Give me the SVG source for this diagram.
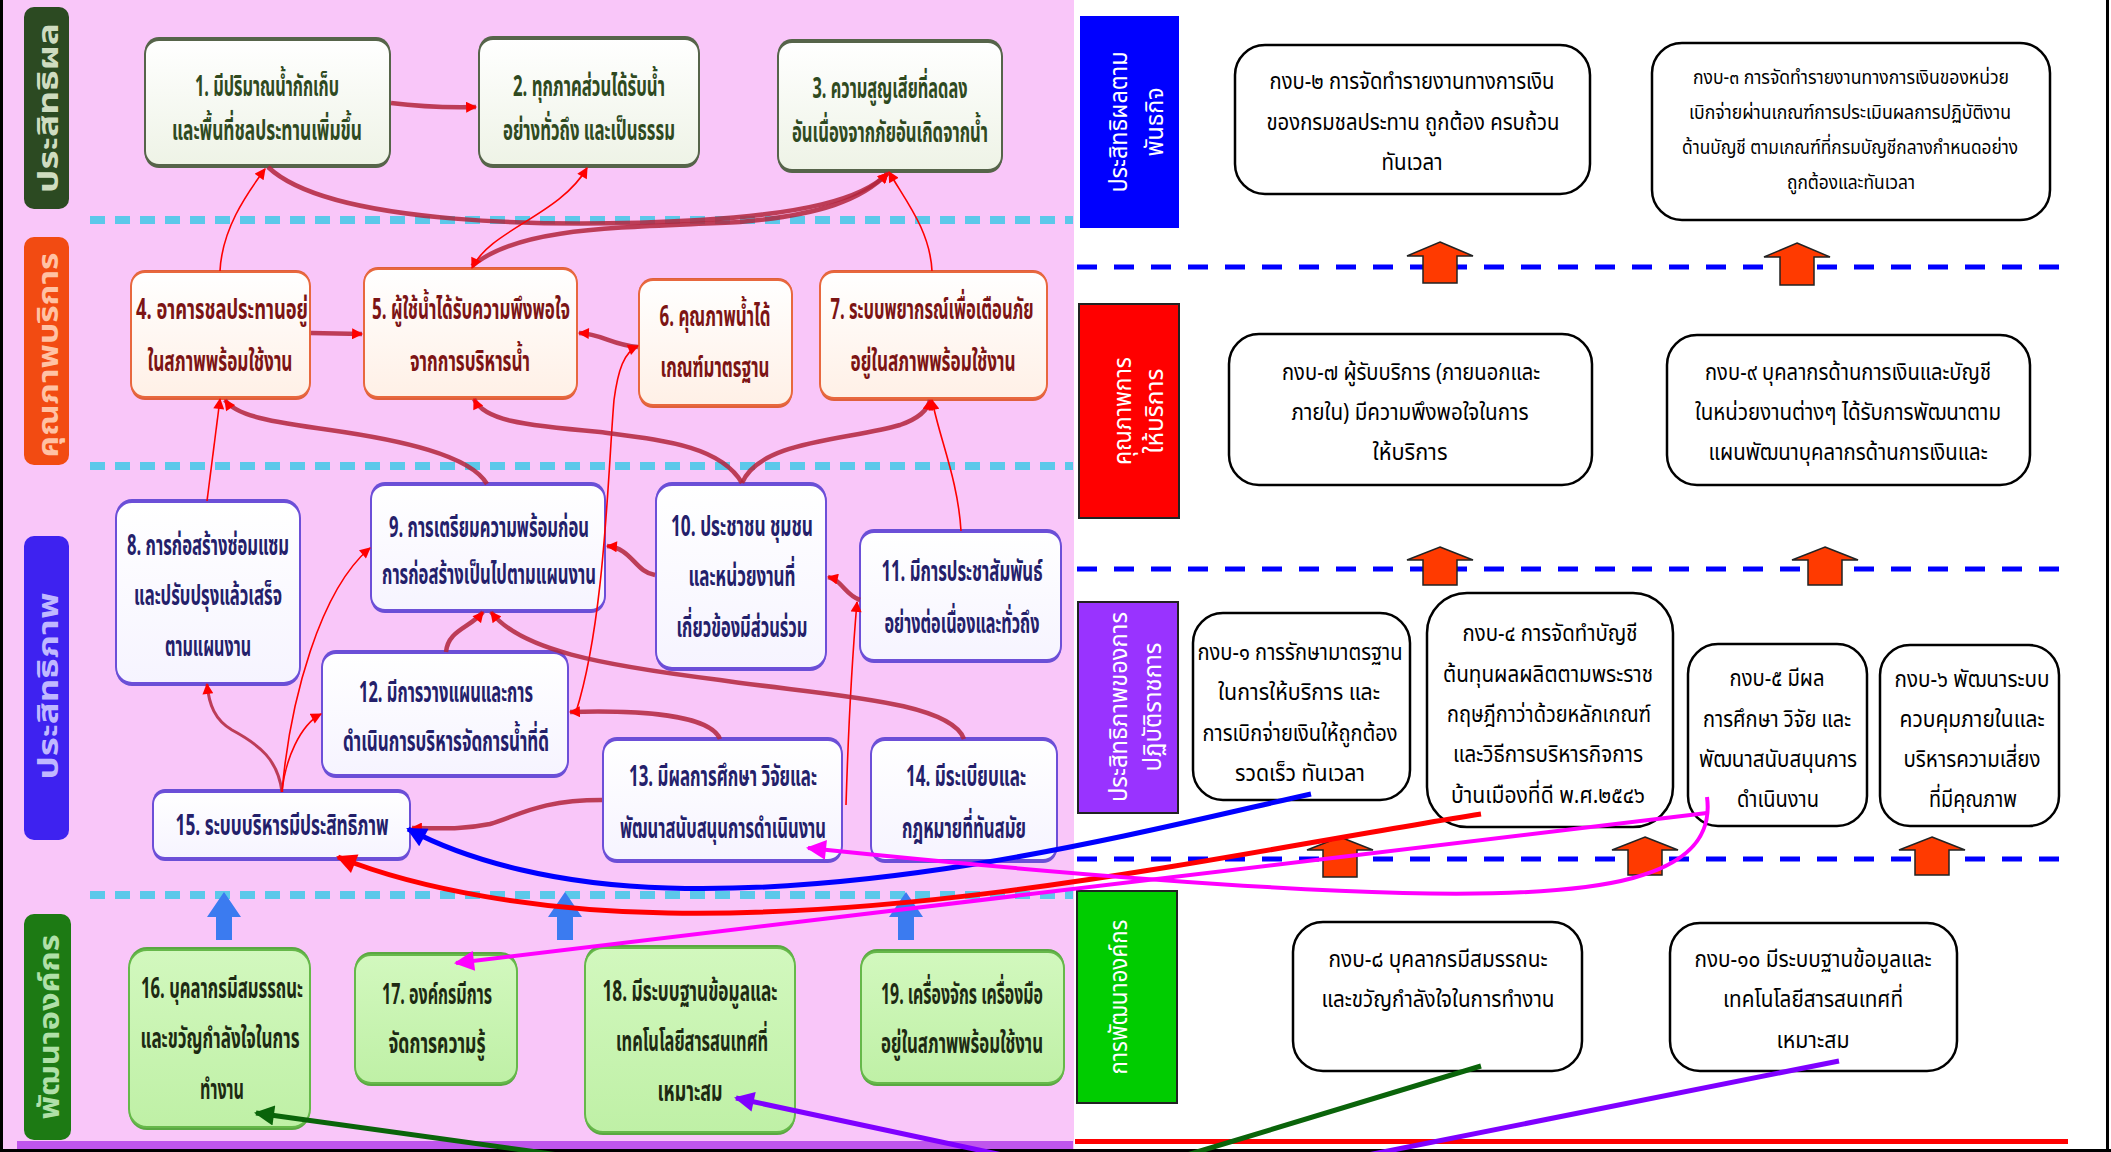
<svg xmlns="http://www.w3.org/2000/svg" width="2111" height="1152" viewBox="0 0 2111 1152">
<defs>
<style>
.t{font-family:"Noto Sans Thai","Noto Sans","DejaVu Sans",sans-serif;font-weight:700;font-size:29px;text-anchor:middle}
.t1{fill:#2f4a1f}.t2{fill:#7c1414}.t3{fill:#24206a}.t4{fill:#1d2a12}
.r{font-family:"Noto Sans Thai","Noto Sans","DejaVu Sans",sans-serif;font-size:23px;text-anchor:middle;fill:#000}
.lab{font-family:"Noto Sans Thai","Noto Sans","DejaVu Sans",sans-serif;font-weight:700;font-size:28px;text-anchor:middle}
.rl{font-family:"Noto Sans Thai","Noto Sans","DejaVu Sans",sans-serif;font-size:24px;text-anchor:middle;fill:#fff}
.s1{fill:#56644a}.s2{fill:#e0603c}.s3{fill:#6a4fd6}.s4{fill:#5aa842}
.b1{fill:url(#g1);stroke:#56644a;stroke-width:2}
.b2{fill:url(#g2);stroke:#e8683e;stroke-width:2}
.b3{fill:url(#g3);stroke:#6c4fd8;stroke-width:2}
.b4{fill:url(#g4);stroke:#66b84a;stroke-width:2}
.rb{fill:#fff;stroke:#000;stroke-width:2.5}
.cy{stroke:#5cc8ea;stroke-width:8;stroke-dasharray:15 10;fill:none}
.bl{stroke:#0000ff;stroke-width:5;stroke-dasharray:20 17;fill:none}
.thk{fill:none;stroke:#b3243c;stroke-width:4.5;stroke-opacity:.85;marker-end:url(#ar)}
.thn{fill:none;stroke:#ff0000;stroke-width:1.6;marker-end:url(#ar)}
.ua{fill:#3b7bf0}
.oa{fill:#ff3a00;stroke:#222;stroke-width:1.5}
</style>
<linearGradient id="g1" x1="0" y1="0" x2="0" y2="1"><stop offset="0" stop-color="#ffffff"/><stop offset="1" stop-color="#eef3e6"/></linearGradient>
<linearGradient id="g2" x1="0" y1="0" x2="0" y2="1"><stop offset="0" stop-color="#ffffff"/><stop offset="1" stop-color="#fff0e6"/></linearGradient>
<linearGradient id="g3" x1="0" y1="0" x2="0" y2="1"><stop offset="0" stop-color="#ffffff"/><stop offset="1" stop-color="#f6f4ff"/></linearGradient>
<linearGradient id="g4" x1="0" y1="0" x2="0" y2="1"><stop offset="0" stop-color="#d2f8be"/><stop offset="1" stop-color="#bff0a6"/></linearGradient>
<marker id="ar" viewBox="0 0 10 10" refX="9" refY="5" markerWidth="12" markerHeight="11" markerUnits="userSpaceOnUse" orient="auto-start-reverse"><path d="M0,0 L10,5 L0,10 z" fill="#ff0000"/></marker>
<marker id="mB" viewBox="0 0 10 10" refX="9" refY="5" markerWidth="24" markerHeight="20" markerUnits="userSpaceOnUse" orient="auto"><path d="M0,0 L10,5 L0,10 z" fill="#0000ff"/></marker>
<marker id="mR" viewBox="0 0 10 10" refX="9" refY="5" markerWidth="24" markerHeight="20" markerUnits="userSpaceOnUse" orient="auto"><path d="M0,0 L10,5 L0,10 z" fill="#ff0000"/></marker>
<marker id="mM" viewBox="0 0 10 10" refX="9" refY="5" markerWidth="24" markerHeight="20" markerUnits="userSpaceOnUse" orient="auto"><path d="M0,0 L10,5 L0,10 z" fill="#ff00ff"/></marker>
<marker id="mG" viewBox="0 0 10 10" refX="9" refY="5" markerWidth="24" markerHeight="20" markerUnits="userSpaceOnUse" orient="auto"><path d="M0,0 L10,5 L0,10 z" fill="#0a640a"/></marker>
<marker id="mP" viewBox="0 0 10 10" refX="9" refY="5" markerWidth="24" markerHeight="20" markerUnits="userSpaceOnUse" orient="auto"><path d="M0,0 L10,5 L0,10 z" fill="#7f00ff"/></marker>
</defs>

<g id="background">
<rect x="0" y="0" width="2111" height="1152" fill="#ffffff"/>
<rect x="0" y="0" width="1074" height="1152" fill="#f9c6f9"/>
<rect x="17" y="1141" width="1056" height="8" fill="#bf55ec"/>
<rect x="0" y="0" width="3" height="1152" fill="#000"/>
<rect x="0" y="1149" width="2111" height="3" fill="#000"/>
<rect x="2106" y="0" width="3" height="1152" fill="#000"/>
</g>

<g id="bands">
<line class="cy" x1="90" y1="220" x2="1073" y2="220"/>
<line class="cy" x1="90" y1="466" x2="1073" y2="466"/>
<line class="cy" x1="90" y1="895" x2="1073" y2="895"/>
<line class="bl" x1="1077" y1="267" x2="2068" y2="267"/>
<line class="bl" x1="1077" y1="569" x2="2068" y2="569"/>
<line class="bl" x1="1077" y1="859" x2="2068" y2="859"/>
<rect x="1075" y="1139" width="993" height="5" fill="#ff0000"/>
<path class="ua" d="M224,892 L241,917 L232,917 L232,940 L216,940 L216,917 L207,917 Z"/>
<path class="ua" d="M565,892 L582,917 L573,917 L573,940 L557,940 L557,917 L548,917 Z"/>
<path class="ua" d="M906,892 L923,917 L914,917 L914,940 L898,940 L898,917 L889,917 Z"/>
<path class="oa" d="M1440,242 L1473,256 L1457,256 L1457,283 L1423,283 L1423,256 L1407,256 Z"/>
<path class="oa" d="M1797,243 L1830,257 L1814,257 L1814,285 L1780,285 L1780,257 L1764,257 Z"/>
<path class="oa" d="M1440,547 L1473,560 L1457,560 L1457,585 L1423,585 L1423,560 L1407,560 Z"/>
<path class="oa" d="M1825,547 L1858,560 L1842,560 L1842,585 L1808,585 L1808,560 L1792,560 Z"/>
<path class="oa" d="M1340,837 L1373,850 L1357,850 L1357,877 L1323,877 L1323,850 L1307,850 Z"/>
<path class="oa" d="M1645,837 L1678,850 L1662,850 L1662,875 L1628,875 L1628,850 L1612,850 Z"/>
<path class="oa" d="M1932,837 L1965,850 L1949,850 L1949,875 L1915,875 L1915,850 L1899,850 Z"/>
</g>

<g id="labels">
<g id="lab1"><rect x="24" y="7" width="45" height="202" rx="10" fill="#2c4a22"/><text class="lab" fill="#cfdcc0" transform="translate(58,108) rotate(-90)" textLength="170" lengthAdjust="spacingAndGlyphs">ประสิทธิผล</text></g>
<g id="lab2"><rect x="24" y="237" width="45" height="228" rx="10" fill="#f24b12"/><text class="lab" fill="#ffc2a4" transform="translate(58,355) rotate(-90)" textLength="205" lengthAdjust="spacingAndGlyphs">คุณภาพบริการ</text></g>
<g id="lab3"><rect x="24" y="536" width="45" height="304" rx="10" fill="#3e22f0"/><text class="lab" fill="#c0b8ff" transform="translate(58,686) rotate(-90)" textLength="187" lengthAdjust="spacingAndGlyphs">ประสิทธิภาพ</text></g>
<g id="lab4"><rect x="24" y="914" width="47" height="226" rx="10" fill="#1d7a14"/><text class="lab" fill="#b0e0a8" transform="translate(59,1027) rotate(-90)" textLength="185" lengthAdjust="spacingAndGlyphs">พัฒนาองค์กร</text></g>
<g id="rlab1"><rect x="1080" y="16" width="99" height="212" fill="#0000ff"/><text class="rl" transform="translate(1127,122) rotate(-90)" textLength="141" lengthAdjust="spacingAndGlyphs">ประสิทธิผลตาม</text><text class="rl" transform="translate(1163,122) rotate(-90)" textLength="69" lengthAdjust="spacingAndGlyphs">พันธกิจ</text></g>
<g id="rlab2"><rect x="1079" y="304" width="100" height="214" fill="#ff0000" stroke="#222" stroke-width="2"/><text class="rl" transform="translate(1131,411) rotate(-90)" textLength="108" lengthAdjust="spacingAndGlyphs">คุณภาพการ</text><text class="rl" transform="translate(1163,411) rotate(-90)" textLength="85" lengthAdjust="spacingAndGlyphs">ให้บริการ</text></g>
<g id="rlab3"><rect x="1078" y="602" width="100" height="211" fill="#9933ff" stroke="#222" stroke-width="2"/><text class="rl" transform="translate(1127,707) rotate(-90)" textLength="190" lengthAdjust="spacingAndGlyphs">ประสิทธิภาพของการ</text><text class="rl" transform="translate(1161,707) rotate(-90)" textLength="129" lengthAdjust="spacingAndGlyphs">ปฏิบัติราชการ</text></g>
<g id="rlab4"><rect x="1077" y="891" width="100" height="212" fill="#00cc00" stroke="#222" stroke-width="2"/><text class="rl" transform="translate(1127,997) rotate(-90)" textLength="155" lengthAdjust="spacingAndGlyphs">การพัฒนาองค์กร</text></g>
</g>

<g id="nodes">
<g id="n1"><rect class="s1" x="145" y="37" width="245" height="131" rx="14"/><rect class="b1" x="145" y="40" width="245" height="125" rx="14"/><text class="t t1" x="267" y="96" textLength="144" lengthAdjust="spacingAndGlyphs">1. มีปริมาณน้ำกักเก็บ</text><text class="t t1" x="267" y="140" textLength="190" lengthAdjust="spacingAndGlyphs">และพื้นที่ชลประทานเพิ่มขึ้น</text></g>
<g id="n2"><rect class="s1" x="479" y="36" width="220" height="132" rx="14"/><rect class="b1" x="479" y="39" width="220" height="126" rx="14"/><text class="t t1" x="589" y="96" textLength="152" lengthAdjust="spacingAndGlyphs">2. ทุกภาคส่วนได้รับน้ำ</text><text class="t t1" x="589" y="140" textLength="172" lengthAdjust="spacingAndGlyphs">อย่างทั่วถึง และเป็นธรรม</text></g>
<g id="n3"><rect class="s1" x="778" y="39" width="224" height="134" rx="14"/><rect class="b1" x="778" y="42" width="224" height="128" rx="14"/><text class="t t1" x="890" y="98" textLength="155" lengthAdjust="spacingAndGlyphs">3. ความสูญเสียที่ลดลง</text><text class="t t1" x="890" y="142" textLength="196" lengthAdjust="spacingAndGlyphs">อันเนื่องจากภัยอันเกิดจากน้ำ</text></g>

<g id="n4"><rect class="s2" x="131" y="270" width="179" height="130" rx="14"/><rect class="b2" x="131" y="272" width="179" height="125" rx="14"/><text class="t t2" x="222" y="319" textLength="172" lengthAdjust="spacingAndGlyphs">4. อาคารชลประทานอยู่</text><text class="t t2" x="220" y="371" textLength="145" lengthAdjust="spacingAndGlyphs">ในสภาพพร้อมใช้งาน</text></g>
<g id="n5"><rect class="s2" x="364" y="267" width="213" height="133" rx="14"/><rect class="b2" x="364" y="269" width="213" height="128" rx="14"/><text class="t t2" x="471" y="319" textLength="198" lengthAdjust="spacingAndGlyphs">5. ผู้ใช้น้ำได้รับความพึงพอใจ</text><text class="t t2" x="470" y="371" textLength="120" lengthAdjust="spacingAndGlyphs">จากการบริหารน้ำ</text></g>
<g id="n6"><rect class="s2" x="639" y="278" width="153" height="130" rx="14"/><rect class="b2" x="639" y="280" width="153" height="125" rx="14"/><text class="t t2" x="715" y="326" textLength="111" lengthAdjust="spacingAndGlyphs">6. คุณภาพน้ำได้</text><text class="t t2" x="715" y="377" textLength="109" lengthAdjust="spacingAndGlyphs">เกณฑ์มาตรฐาน</text></g>
<g id="n7"><rect class="s2" x="820" y="270" width="227" height="131" rx="14"/><rect class="b2" x="820" y="272" width="227" height="126" rx="14"/><text class="t t2" x="932" y="319" textLength="203" lengthAdjust="spacingAndGlyphs">7. ระบบพยากรณ์เพื่อเตือนภัย</text><text class="t t2" x="933" y="371" textLength="165" lengthAdjust="spacingAndGlyphs">อยู่ในสภาพพร้อมใช้งาน</text></g>

<g id="n8"><rect class="s3" x="116" y="499" width="184" height="187" rx="16"/><rect class="b3" x="116" y="502" width="184" height="181" rx="16"/><text class="t t3" x="208" y="555" textLength="162" lengthAdjust="spacingAndGlyphs">8. การก่อสร้างซ่อมแซม</text><text class="t t3" x="208" y="605" textLength="148" lengthAdjust="spacingAndGlyphs">และปรับปรุงแล้วเสร็จ</text><text class="t t3" x="208" y="656" textLength="86" lengthAdjust="spacingAndGlyphs">ตามแผนงาน</text></g>
<g id="n9"><rect class="s3" x="371" y="482" width="234" height="131" rx="14"/><rect class="b3" x="371" y="485" width="234" height="125" rx="14"/><text class="t t3" x="489" y="537" textLength="200" lengthAdjust="spacingAndGlyphs">9. การเตรียมความพร้อมก่อน</text><text class="t t3" x="489" y="584" textLength="214" lengthAdjust="spacingAndGlyphs">การก่อสร้างเป็นไปตามแผนงาน</text></g>
<g id="n10"><rect class="s3" x="656" y="482" width="170" height="189" rx="16"/><rect class="b3" x="656" y="485" width="170" height="183" rx="16"/><text class="t t3" x="742" y="536" textLength="142" lengthAdjust="spacingAndGlyphs">10. ประชาชน ชุมชน</text><text class="t t3" x="742" y="586" textLength="107" lengthAdjust="spacingAndGlyphs">และหน่วยงานที่</text><text class="t t3" x="742" y="637" textLength="131" lengthAdjust="spacingAndGlyphs">เกี่ยวข้องมีส่วนร่วม</text></g>
<g id="n11"><rect class="s3" x="860" y="529" width="201" height="134" rx="14"/><rect class="b3" x="860" y="532" width="201" height="128" rx="14"/><text class="t t3" x="962" y="581" textLength="161" lengthAdjust="spacingAndGlyphs">11. มีการประชาสัมพันธ์</text><text class="t t3" x="962" y="633" textLength="155" lengthAdjust="spacingAndGlyphs">อย่างต่อเนื่องและทั่วถึง</text></g>
<g id="n12"><rect class="s3" x="322" y="650" width="246" height="128" rx="14"/><rect class="b3" x="322" y="653" width="246" height="122" rx="14"/><text class="t t3" x="446" y="702" textLength="174" lengthAdjust="spacingAndGlyphs">12. มีการวางแผนและการ</text><text class="t t3" x="446" y="751" textLength="206" lengthAdjust="spacingAndGlyphs">ดำเนินการบริหารจัดการน้ำที่ดี</text></g>
<g id="n13"><rect class="s3" x="603" y="737" width="239" height="126" rx="14"/><rect class="b3" x="603" y="740" width="239" height="120" rx="14"/><text class="t t3" x="723" y="786" textLength="188" lengthAdjust="spacingAndGlyphs">13. มีผลการศึกษา วิจัยและ</text><text class="t t3" x="723" y="838" textLength="206" lengthAdjust="spacingAndGlyphs">พัฒนาสนับสนุนการดำเนินงาน</text></g>
<g id="n14"><rect class="s3" x="871" y="737" width="186" height="126" rx="14"/><rect class="b3" x="871" y="740" width="186" height="120" rx="14"/><text class="t t3" x="966" y="786" textLength="120" lengthAdjust="spacingAndGlyphs">14. มีระเบียบและ</text><text class="t t3" x="964" y="838" textLength="124" lengthAdjust="spacingAndGlyphs">กฎหมายที่ทันสมัย</text></g>
<g id="n15"><rect class="s3" x="153" y="789" width="257" height="72" rx="12"/><rect class="b3" x="153" y="792" width="257" height="66" rx="12"/><text class="t t3" x="282" y="835" textLength="213" lengthAdjust="spacingAndGlyphs">15. ระบบบริหารมีประสิทธิภาพ</text></g>

<g id="n16"><rect class="s4" x="129" y="947" width="181" height="183" rx="18"/><rect class="b4" x="129" y="950" width="181" height="177" rx="18"/><text class="t t4" x="222" y="998" textLength="162" lengthAdjust="spacingAndGlyphs">16. บุคลากรมีสมรรถนะ</text><text class="t t4" x="220" y="1048" textLength="159" lengthAdjust="spacingAndGlyphs">และขวัญกำลังใจในการ</text><text class="t t4" x="222" y="1099" textLength="44" lengthAdjust="spacingAndGlyphs">ทำงาน</text></g>
<g id="n17"><rect class="s4" x="355" y="952" width="162" height="134" rx="16"/><rect class="b4" x="355" y="955" width="162" height="128" rx="16"/><text class="t t4" x="437" y="1004" textLength="110" lengthAdjust="spacingAndGlyphs">17. องค์กรมีการ</text><text class="t t4" x="437" y="1053" textLength="97" lengthAdjust="spacingAndGlyphs">จัดการความรู้</text></g>
<g id="n18"><rect class="s4" x="585" y="945" width="210" height="190" rx="18"/><rect class="b4" x="585" y="948" width="210" height="184" rx="18"/><text class="t t4" x="690" y="1001" textLength="175" lengthAdjust="spacingAndGlyphs">18. มีระบบฐานข้อมูลและ</text><text class="t t4" x="692" y="1051" textLength="152" lengthAdjust="spacingAndGlyphs">เทคโนโลยีสารสนเทศที่</text><text class="t t4" x="690" y="1101" textLength="65" lengthAdjust="spacingAndGlyphs">เหมาะสม</text></g>
<g id="n19"><rect class="s4" x="861" y="949" width="203" height="137" rx="16"/><rect class="b4" x="861" y="952" width="203" height="131" rx="16"/><text class="t t4" x="962" y="1004" textLength="162" lengthAdjust="spacingAndGlyphs">19. เครื่องจักร เครื่องมือ</text><text class="t t4" x="962" y="1053" textLength="162" lengthAdjust="spacingAndGlyphs">อยู่ในสภาพพร้อมใช้งาน</text></g>

<g id="k2"><rect class="rb" x="1235" y="45" width="355" height="149" rx="30"/><text class="r" x="1412" y="89" textLength="285" lengthAdjust="spacingAndGlyphs">กงบ-๒ การจัดทำรายงานทางการเงิน</text><text class="r" x="1413" y="130" textLength="293" lengthAdjust="spacingAndGlyphs">ของกรมชลประทาน ถูกต้อง ครบถ้วน</text><text class="r" x="1412" y="170" textLength="61" lengthAdjust="spacingAndGlyphs">ทันเวลา</text></g>
<g id="k3"><rect class="rb" x="1652" y="43" width="398" height="177" rx="30"/><text class="r" style="font-size:20px" x="1851" y="84" textLength="316" lengthAdjust="spacingAndGlyphs">กงบ-๓ การจัดทำรายงานทางการเงินของหน่วย</text><text class="r" style="font-size:20px" x="1850" y="119" textLength="322" lengthAdjust="spacingAndGlyphs">เบิกจ่ายผ่านเกณฑ์การประเมินผลการปฏิบัติงาน</text><text class="r" style="font-size:20px" x="1850" y="154" textLength="336" lengthAdjust="spacingAndGlyphs">ด้านบัญชี ตามเกณฑ์ที่กรมบัญชีกลางกำหนดอย่าง</text><text class="r" style="font-size:20px" x="1851" y="189" textLength="128" lengthAdjust="spacingAndGlyphs">ถูกต้องและทันเวลา</text></g>
<g id="k7"><rect class="rb" x="1229" y="334" width="363" height="151" rx="30"/><text class="r" x="1411" y="380" textLength="258" lengthAdjust="spacingAndGlyphs">กงบ-๗ ผู้รับบริการ (ภายนอกและ</text><text class="r" x="1410" y="420" textLength="237" lengthAdjust="spacingAndGlyphs">ภายใน) มีความพึงพอใจในการ</text><text class="r" x="1410" y="460" textLength="75" lengthAdjust="spacingAndGlyphs">ให้บริการ</text></g>
<g id="k9"><rect class="rb" x="1667" y="335" width="363" height="150" rx="30"/><text class="r" x="1848" y="380" textLength="286" lengthAdjust="spacingAndGlyphs">กงบ-๙ บุคลากรด้านการเงินและบัญชี</text><text class="r" x="1848" y="420" textLength="306" lengthAdjust="spacingAndGlyphs">ในหน่วยงานต่างๆ ได้รับการพัฒนาตาม</text><text class="r" x="1848" y="460" textLength="279" lengthAdjust="spacingAndGlyphs">แผนพัฒนาบุคลากรด้านการเงินและ</text></g>
<g id="k1"><rect class="rb" x="1193" y="613" width="217" height="187" rx="30"/><text class="r" x="1300" y="660" textLength="205" lengthAdjust="spacingAndGlyphs">กงบ-๑ การรักษามาตรฐาน</text><text class="r" x="1299" y="700" textLength="162" lengthAdjust="spacingAndGlyphs">ในการให้บริการ และ</text><text class="r" x="1300" y="741" textLength="195" lengthAdjust="spacingAndGlyphs">การเบิกจ่ายเงินให้ถูกต้อง</text><text class="r" x="1300" y="781" textLength="130" lengthAdjust="spacingAndGlyphs">รวดเร็ว  ทันเวลา</text></g>
<g id="k4"><rect class="rb" x="1427" y="593" width="246" height="234" rx="40"/><text class="r" x="1550" y="641" textLength="175" lengthAdjust="spacingAndGlyphs">กงบ-๔ การจัดทำบัญชี</text><text class="r" x="1548" y="682" textLength="210" lengthAdjust="spacingAndGlyphs">ต้นทุนผลผลิตตามพระราช</text><text class="r" x="1549" y="722" textLength="204" lengthAdjust="spacingAndGlyphs">กฤษฎีกาว่าด้วยหลักเกณฑ์</text><text class="r" x="1548" y="762" textLength="190" lengthAdjust="spacingAndGlyphs">และวิธีการบริหารกิจการ</text><text class="r" x="1548" y="803" textLength="194" lengthAdjust="spacingAndGlyphs">บ้านเมืองที่ดี พ.ศ.๒๕๔๖</text></g>
<g id="k5"><rect class="rb" x="1688" y="644" width="179" height="182" rx="30"/><text class="r" x="1777" y="686" textLength="95" lengthAdjust="spacingAndGlyphs">กงบ-๕ มีผล</text><text class="r" x="1777" y="727" textLength="148" lengthAdjust="spacingAndGlyphs">การศึกษา วิจัย และ</text><text class="r" x="1778" y="767" textLength="158" lengthAdjust="spacingAndGlyphs">พัฒนาสนับสนุนการ</text><text class="r" x="1778" y="807" textLength="82" lengthAdjust="spacingAndGlyphs">ดำเนินงาน</text></g>
<g id="k6"><rect class="rb" x="1880" y="645" width="179" height="181" rx="30"/><text class="r" x="1972" y="687" textLength="155" lengthAdjust="spacingAndGlyphs">กงบ-๖ พัฒนาระบบ</text><text class="r" x="1972" y="727" textLength="145" lengthAdjust="spacingAndGlyphs">ควบคุมภายในและ</text><text class="r" x="1972" y="767" textLength="137" lengthAdjust="spacingAndGlyphs">บริหารความเสี่ยง</text><text class="r" x="1973" y="807" textLength="88" lengthAdjust="spacingAndGlyphs">ที่มีคุณภาพ</text></g>
<g id="k8"><rect class="rb" x="1293" y="922" width="289" height="149" rx="30"/><text class="r" x="1438" y="967" textLength="219" lengthAdjust="spacingAndGlyphs">กงบ-๘ บุคลากรมีสมรรถนะ</text><text class="r" x="1438" y="1007" textLength="233" lengthAdjust="spacingAndGlyphs">และขวัญกำลังใจในการทำงาน</text></g>
<g id="k10"><rect class="rb" x="1670" y="923" width="287" height="148" rx="30"/><text class="r" x="1813" y="967" textLength="237" lengthAdjust="spacingAndGlyphs">กงบ-๑๐ มีระบบฐานข้อมูลและ</text><text class="r" x="1813" y="1007" textLength="180" lengthAdjust="spacingAndGlyphs">เทคโนโลยีสารสนเทศที่</text><text class="r" x="1813" y="1048" textLength="73" lengthAdjust="spacingAndGlyphs">เหมาะสม</text></g>
</g>

<g id="connectors">
<path class="thn" d="M220,271 C222,230 245,196 265,169"/>
<path class="thk" d="M391,103 Q430,108 476,107"/>
<path class="thk" d="M268,167 C330,226 560,228 700,220 C800,214 862,200 888,173"/>
<path class="thk" d="M472,266 C520,226 620,228 740,222 C820,215 862,200 888,173"/>
<path class="thn" style="marker-start:url(#ar)" d="M472,268 C490,230 560,215 587,168"/>
<path class="thn" d="M932,271 C930,230 905,200 889,172"/>
<path class="thk" d="M311,333 L362,334"/>
<path class="thk" d="M638,347 C612,345 602,334 579,333"/>
<path class="thn" d="M576,712 C605,620 608,470 614,400 C618,370 624,352 638,346"/>
<path class="thn" d="M207,501 L220,399"/>
<path class="thk" d="M487,484 C470,455 400,440 330,430 C272,422 236,416 225,400"/>
<path class="thk" d="M742,483 C720,445 660,440 600,432 C520,425 484,420 474,399"/>
<path class="thk" d="M742,483 C760,440 850,440 900,425 C920,418 928,410 930,400"/>
<path class="thn" d="M961,531 C958,480 940,440 932,400"/>
<path class="thk" d="M655,575 C635,572 632,548 607,546"/>
<path class="thk" d="M860,600 C845,595 842,580 828,577"/>
<path class="thn" d="M846,805 C848,740 852,660 857,602"/>
<path class="thk" d="M446,652 C448,630 470,628 483,612"/>
<path class="thk" d="M964,739 C950,700 820,695 720,680 C600,665 520,650 491,612"/>
<path class="thk" d="M720,739 C710,715 640,710 570,712"/>
<path class="thk" d="M602,800 C540,800 520,815 490,824 C460,830 440,828 412,828"/>
<path class="thk" style="stroke-width:3" d="M282,792 C278,760 260,745 232,730 C215,720 209,705 207,684"/>
<path class="thn" d="M282,792 C285,760 300,725 321,714"/>
<path class="thn" d="M282,792 C290,700 320,590 370,548"/>

<path fill="none" stroke="#0000ff" stroke-width="5" marker-end="url(#mB)" d="M1311,794 C1150,830 900,895 668,888 C560,885 470,862 408,829"/>
<path fill="none" stroke="#ff0000" stroke-width="5" marker-end="url(#mR)" d="M1481,814 C1250,850 950,918 668,913 C540,911 420,890 338,857"/>
<path fill="none" stroke="#ff00ff" stroke-width="4" marker-end="url(#mM)" d="M1707,797 C1718,880 1600,898 1403,893 C1220,888 1000,868 808,848"/>
<path fill="none" stroke="#ff00ff" stroke-width="4" marker-end="url(#mM)" d="M1707,813 L456,963"/>
<path fill="none" stroke="#0a640a" stroke-width="5" marker-end="url(#mG)" d="M1481,1066 L1197,1152 C1000,1212 700,1175 537,1152 L256,1113"/>
<path fill="none" stroke="#7f00ff" stroke-width="5" marker-end="url(#mP)" d="M1839,1061 L1383,1152 C1250,1179 1110,1178 988,1152 L736,1098"/>
</g>
</svg>
